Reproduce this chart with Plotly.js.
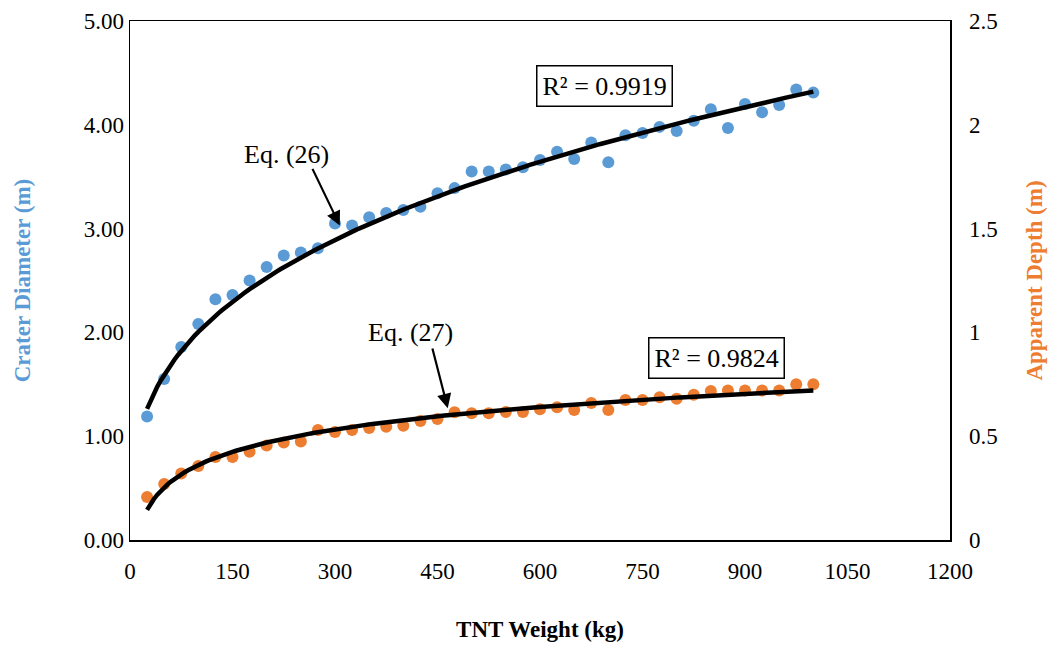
<!DOCTYPE html>
<html>
<head>
<meta charset="utf-8">
<script src="https://cdn.plot.ly/plotly-3.0.1.min.js"></script>
<style>
  html, body { margin: 0; padding: 0; background: #fff; }
  #chart { width: 1064px; height: 648px; }
</style>
</head>
<body>
<div id="chart"></div>
<script>
// TNT charge weights (kg)
const tntWeight = [25, 50, 75, 100, 125, 150, 175, 200, 225, 250,
                   275, 300, 325, 350, 375, 400, 425, 450, 475, 500,
                   525, 550, 575, 600, 625, 650, 675, 700, 725, 750,
                   775, 800, 825, 850, 875, 900, 925, 950, 975, 1000];

// Measured crater diameter (m)
const craterDiameter = [1.19, 1.55, 1.86, 2.08, 2.32, 2.36, 2.50, 2.63, 2.74, 2.77,
                        2.81, 3.05, 3.03, 3.11, 3.15, 3.18, 3.21, 3.34, 3.39, 3.55,
                        3.55, 3.57, 3.59, 3.66, 3.74, 3.67, 3.83, 3.64, 3.90, 3.92,
                        3.98, 3.94, 4.04, 4.15, 3.97, 4.20, 4.12, 4.19, 4.34, 4.31];

// Measured apparent depth (m)
const apparentDepth = [0.207, 0.27, 0.32, 0.357, 0.40, 0.40, 0.425, 0.455, 0.47, 0.475,
                       0.53, 0.52, 0.53, 0.54, 0.545, 0.55, 0.573, 0.583, 0.615, 0.61,
                       0.61, 0.617, 0.617, 0.63, 0.64, 0.626, 0.66, 0.626, 0.674, 0.674,
                       0.688, 0.68, 0.70, 0.718, 0.72, 0.72, 0.72, 0.72, 0.75, 0.75];

// Fitted relations: Eq. (26) power law, Eq. (27) logarithmic
const eq26 = { coef: 0.432, exponent: 1 / 3 };
const eq27 = { slope: 0.156, intercept: -0.357 };

// Smooth sample points for the fitted curves over the tested range
const fitW = [];
for (let w = 25; w <= 1000; w += 5) fitW.push(w);
const fitDiameter = fitW.map(w => eq26.coef * Math.pow(w, eq26.exponent));
const fitDepth = fitW.map(w => eq27.slope * Math.log(w) + eq27.intercept);

const serif = '"Liberation Serif", "Times New Roman", serif';
const blue = '#5B9BD5';
const orange = '#ED7D31';

const traces = [
  { x: tntWeight, y: craterDiameter, type: 'scatter', mode: 'markers',
    marker: { color: blue, size: 12 }, name: 'Crater Diameter', yaxis: 'y' },
  { x: tntWeight, y: apparentDepth, type: 'scatter', mode: 'markers',
    marker: { color: orange, size: 12 }, name: 'Apparent Depth', yaxis: 'y2' },
  { x: fitW, y: fitDiameter, type: 'scatter', mode: 'lines',
    line: { color: '#000', width: 4.5 }, name: 'Eq. (26)', yaxis: 'y' },
  { x: fitW, y: fitDepth, type: 'scatter', mode: 'lines',
    line: { color: '#000', width: 4.5 }, name: 'Eq. (27)', yaxis: 'y2' }
];

const layout = {
  width: 1064, height: 648,
  margin: { l: 130, r: 114, t: 21, b: 108 },
  paper_bgcolor: '#fff', plot_bgcolor: '#fff',
  showlegend: false,
  font: { family: serif, size: 23, color: '#000' },
  xaxis: {
    range: [0, 1200], dtick: 150, tick0: 0,
    showgrid: false, zeroline: false, ticks: '',
    showline: true, linecolor: '#000', linewidth: 1.5, mirror: true,
    ticklabelstandoff: 10,
    tickfont: { family: serif, size: 23 },
    title: { text: '<b>TNT Weight (kg)</b>', font: { family: serif, size: 23 }, standoff: 38 }
  },
  yaxis: {
    range: [0, 5], dtick: 1, tick0: 0, tickformat: '.2f',
    showgrid: false, zeroline: false, ticks: '',
    showline: true, linecolor: '#000', linewidth: 1.5, mirror: true,
    ticklabelstandoff: 0,
    tickfont: { family: serif, size: 23 },
    title: { text: '<b>Crater Diameter (m)</b>', font: { family: serif, size: 23, color: blue }, standoff: 46 }
  },
  yaxis2: {
    range: [0, 2.5], dtick: 0.5, tick0: 0,
    overlaying: 'y', side: 'right',
    showgrid: false, zeroline: false, ticks: '',
    showline: true, linecolor: '#000', linewidth: 1.5,
    ticklabelstandoff: 13,
    tickfont: { family: serif, size: 23 },
    title: { text: '<b>Apparent Depth (m)</b>', font: { family: serif, size: 23, color: orange }, standoff: 29 }
  },
  annotations: [
    { xref: 'x', yref: 'y', x: 229, y: 3.71, text: 'Eq. (26)', showarrow: false,
      font: { family: serif, size: 26 } },
    { xref: 'x', yref: 'y', axref: 'x', ayref: 'y',
      x: 307, y: 3.03, ax: 266, ay: 3.59, text: '', showarrow: true,
      arrowhead: 2, arrowsize: 1.3, arrowwidth: 2.2, arrowcolor: '#000' },
    { xref: 'x', yref: 'y', x: 411, y: 2.00, text: 'Eq. (27)', showarrow: false,
      font: { family: serif, size: 26 } },
    { xref: 'x', yref: 'y', axref: 'x', ayref: 'y',
      x: 465, y: 1.27, ax: 442, ay: 1.86, text: '', showarrow: true,
      arrowhead: 2, arrowsize: 1.3, arrowwidth: 2.2, arrowcolor: '#000' },
    { xref: 'x', yref: 'y', x: 695, y: 4.37, text: 'R² = 0.9919', showarrow: false,
      font: { family: serif, size: 26 }, bordercolor: '#000', borderwidth: 1.5,
      borderpad: 5, bgcolor: '#fff' },
    { xref: 'x', yref: 'y', x: 859, y: 1.75, text: 'R² = 0.9824', showarrow: false,
      font: { family: serif, size: 26 }, bordercolor: '#000', borderwidth: 1.5,
      borderpad: 5, bgcolor: '#fff' }
  ]
};

Plotly.newPlot('chart', traces, layout, { displayModeBar: false, staticPlot: true });
</script>
</body>
</html>
